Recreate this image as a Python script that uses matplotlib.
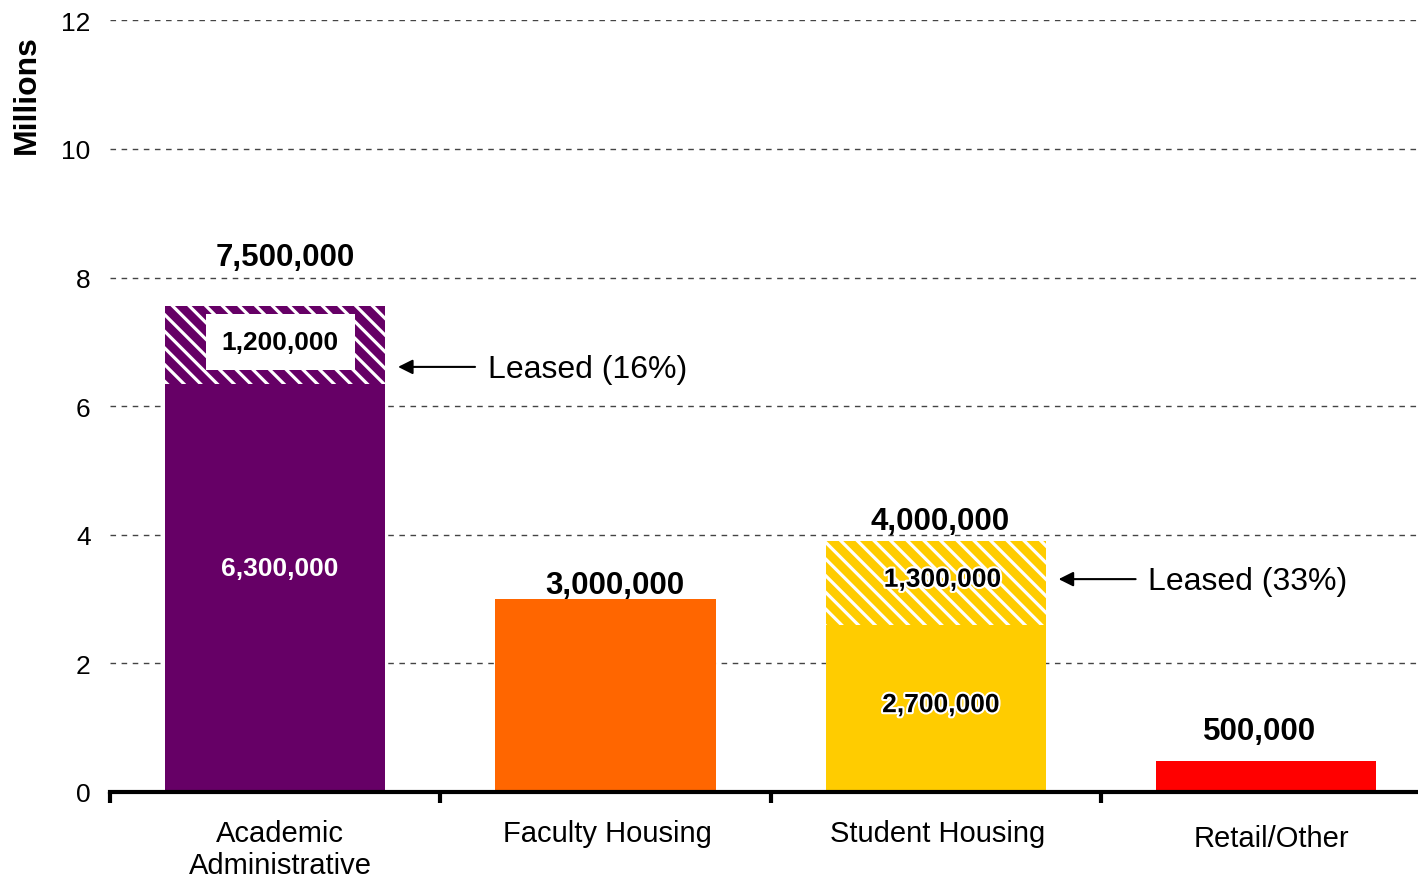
import matplotlib
matplotlib.use("Agg")
import matplotlib.pyplot as plt
import matplotlib.patheffects as pe

plt.rcParams['font.family'] = ['Liberation Sans', 'DejaVu Sans']
plt.rcParams['hatch.linewidth'] = 2.3

categories = ['Academic\nAdministrative', 'Faculty Housing', 'Student Housing', 'Retail/Other']
owned = [6.35, 3.0, 2.6, 0.48]
leased = [1.2, 0.0, 1.3, 0.0]
colors = ['#660066', '#FF6600', '#FFCC00', '#FF0000']
totals = ['7,500,000', '3,000,000', '4,000,000', '500,000']
owned_labels = ['6,300,000', '', '2,700,000', '']
leased_labels = ['1,200,000', '', '1,300,000', '']
leased_notes = ['Leased (16%)', '', 'Leased (33%)', '']

# label placement (data units)
total_pos = [(0.03, 8.32), (1.027, 3.22), (2.012, 4.21), (2.98, 0.95)]
owned_pos = [(0.015, 3.48), None, (2.015, 1.35), None]
leased_pos = [(0.015, 7.0), None, (2.02, 3.30), None]
arrow_y = [6.61, None, 3.31, None]
cat_pos = [(0.015, -0.42), (1.006, -0.42), (2.006, -0.42), (3.015, -0.5)]

fig = plt.figure(figsize=(14.18, 8.87), dpi=100)
ax = fig.add_axes([0.0776, 0.106, 0.9224, 0.87])

x = list(range(len(categories)))
w = 0.667
ax.bar(x, owned, width=w, color=colors, zorder=2)
for i in x:
    if leased[i] > 0:
        ax.bar(i, leased[i], bottom=owned[i], width=w, color=colors[i],
               edgecolor='white', hatch='\\\\', linewidth=0, zorder=2)

ax.set_xlim(-0.5, 3.46)
ax.set_ylim(0, 12)
ax.set_yticks([0, 2, 4, 6, 8, 10, 12])
ax.tick_params(axis='y', length=0, labelsize=19, pad=14)
ax.yaxis.grid(True, linestyle=(0, (4, 4)), color='#444444', linewidth=1, zorder=0)
ax.set_axisbelow(True)
for s in ['left', 'right', 'top']:
    ax.spines[s].set_visible(False)
ax.spines['bottom'].set_linewidth(3)
ax.set_xticks([-0.5, 0.5, 1.5, 2.5])
ax.set_xticklabels([])
ax.tick_params(axis='x', length=8, width=3, direction='out')
for i, c in enumerate(categories):
    cx, cy = cat_pos[i]
    ax.text(cx, cy, c, ha='center', va='top', fontsize=21, linespacing=1.2,
            clip_on=False)

fig.text(0.019, 0.893, 'Millions', rotation=90, fontsize=23, fontweight='bold',
         ha='center', va='center')

for i in x:
    tx, ty = total_pos[i]
    ax.text(tx, ty, totals[i], ha='center', va='center',
            fontsize=22.5, fontweight='bold', zorder=4)

glow = [pe.withStroke(linewidth=3, foreground='white')]
for i in x:
    if owned_labels[i]:
        col = 'white' if i == 0 else 'black'
        effects = [] if i == 0 else glow
        ox, oy = owned_pos[i]
        ax.text(ox, oy, owned_labels[i], ha='center', va='center', fontsize=19,
                fontweight='bold', color=col, path_effects=effects, zorder=4)
    if leased_labels[i]:
        lx, ly = leased_pos[i]
        if i == 0:
            ax.text(lx, ly, leased_labels[i], ha='center', va='center',
                    fontsize=19, fontweight='bold', zorder=4,
                    bbox=dict(boxstyle='square,pad=0.6', facecolor='white', edgecolor='none'))
        else:
            ax.text(lx, ly, leased_labels[i], ha='center', va='center',
                    fontsize=19, fontweight='bold', path_effects=glow, zorder=4)
        ay = arrow_y[i]
        ax.annotate('', xy=(i + w / 2 + 0.03, ay), xytext=(i + w / 2 + 0.28, ay),
                    arrowprops=dict(arrowstyle='-|>', color='black', lw=1.5,
                                    mutation_scale=22), zorder=4)
        ax.text(i + w / 2 + 0.31, ay - 0.03, leased_notes[i], ha='left', va='center',
                fontsize=23, zorder=4)

fig.savefig('out.png', dpi=100)
